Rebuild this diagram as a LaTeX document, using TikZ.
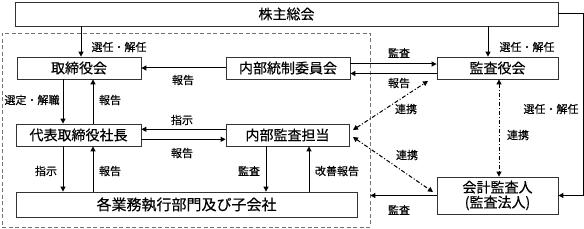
\documentclass[tikz,border=0pt]{standalone}
\usepackage{fontspec}
\setmainfont{Noto Sans CJK JP}[FakeBold=0.4]
\usetikzlibrary{arrows.meta,calc}
\begin{document}
\begin{tikzpicture}[x=1pt,y=-1pt,
  box/.style={draw=black!80,line width=0.8pt,fill=white,inner sep=0pt,font=\fontsize{14}{16}\selectfont},
  lbl/.style={inner sep=0pt,font=\fontsize{11}{13}\selectfont},
  arr/.style={line width=1pt,-{Triangle[length=5pt,width=5pt]}},
  dd/.style={line width=1pt,dash pattern=on 4pt off 2pt on 1pt off 2pt,{Triangle[length=5pt,width=5pt]}-{Triangle[length=5pt,width=5pt]}},
  grpbox/.style={draw=black!55,line width=0.8pt,dash pattern=on 4pt off 2.5pt,inner sep=0pt}]
\useasboundingbox (0,0) rectangle (584,229);
% group
\node[grpbox,minimum width=368pt,minimum height=194pt] (grp) at (186,130) {};
% boxes
\node[box,minimum width=543pt,minimum height=24pt] (kabu) at (286.5,14) {株主総会};
\node[box,minimum width=124pt,minimum height=22pt] (tori) at (79,68) {取締役会};
\node[box,minimum width=124pt,minimum height=22pt] (nai) at (288,68) {内部統制委員会};
\node[box,minimum width=121pt,minimum height=22pt] (kan) at (497.5,68) {監査役会};
\node[box,minimum width=125pt,minimum height=22pt] (dai) at (78.5,135) {代表取締役社長};
\node[box,minimum width=123pt,minimum height=22pt] (naik) at (287.5,135) {内部監査担当};
\node[box,minimum width=341pt,minimum height=25pt,font=\fontsize{15}{17}\selectfont] (kaku) at (186.5,204.5) {各業務執行部門及び子会社};
\node[box,minimum width=121pt,minimum height=37pt,align=center,font=\fontsize{14}{15}\selectfont] (kai) at (497.5,195.5) {会計監査人\\(監査法人)};
% arrows
\draw[arr] ([xshift=2pt]kabu.south -| tori.north) -- ([xshift=2pt]tori.north);
\draw[arr] ([xshift=-9.5pt]kabu.south -| kan.north) -- ([xshift=-9.5pt]kan.north);
\draw[arr] (nai.west) -- (tori.east);
\draw[arr] ([yshift=-5.5pt]kan.west) -- ([yshift=-5.5pt]nai.east);
\draw[arr] ([yshift=4pt]nai.east) -- ([yshift=4pt]kan.west);
\draw[arr] ([xshift=-16pt]tori.south) -- ([xshift=-15.5pt]dai.north);
\draw[arr] ([xshift=14.5pt]dai.north) -- ([xshift=14pt]tori.south);
\draw[arr] ([yshift=-4.3pt]dai.east) -- ([yshift=-4.3pt]naik.west);
\draw[arr] ([yshift=5.7pt]naik.west) -- ([yshift=5.7pt]dai.east);
\draw[arr] ([xshift=-15.5pt]dai.south) -- ([xshift=-15.5pt]dai.south |- kaku.north);
\draw[arr] ([xshift=14.5pt]dai.south |- kaku.north) -- ([xshift=14.5pt]dai.south);
\draw[arr] ([xshift=-21.5pt]naik.south) -- ([xshift=-21.5pt]naik.south |- kaku.north);
\draw[arr] ([xshift=21.5pt]naik.south |- kaku.north) -- ([xshift=21.5pt]naik.south);
\coordinate (rc) at (583,14);
\draw[arr] (kabu.east |- rc) -- (rc) |- (kai.east);
\draw[arr] (kai.west) -- (kai.west -| grp.east);
% dash-dot
\coordinate (d1a) at (353,130);
\coordinate (d1b) at (428,81);
\coordinate (d2a) at (353,137);
\coordinate (d2b) at (433,192);
\draw[dd] (d1a) -- (d1b);
\draw[dd] (d2a) -- (d2b);
\draw[dd] ([xshift=1.5pt]kan.south) -- ([xshift=1.5pt]kai.north);
% labels
\node[lbl] (l1) at (119,47) {選任・解任};
\node[lbl] (l2) at (527,47) {選任・解任};
\node[lbl] (l3) at (183,80) {報告};
\node[lbl] (l4) at (399,53) {監査};
\node[lbl] (l5) at (399,83) {報告};
\node[lbl] (l6) at (32,100) {選定・解職};
\node[lbl] (l7) at (110,100) {報告};
\node[lbl] (l8) at (182,120) {指示};
\node[lbl] (l9) at (182,153) {報告};
\node[lbl] (l10) at (46,171) {指示};
\node[lbl] (l11) at (110,171) {報告};
\node[lbl] (l12) at (249,171) {監査};
\node[lbl] (l13) at (337,171) {改善報告};
\node[lbl] (l14) at (406,109) {連携};
\node[lbl] (l15) at (407,155) {連携};
\node[lbl] (l16) at (518,135) {連携};
\node[lbl] (l17) at (551,109) {選任・解任};
\node[lbl] (l18) at (399,210) {監査};
\end{tikzpicture}
\end{document}
